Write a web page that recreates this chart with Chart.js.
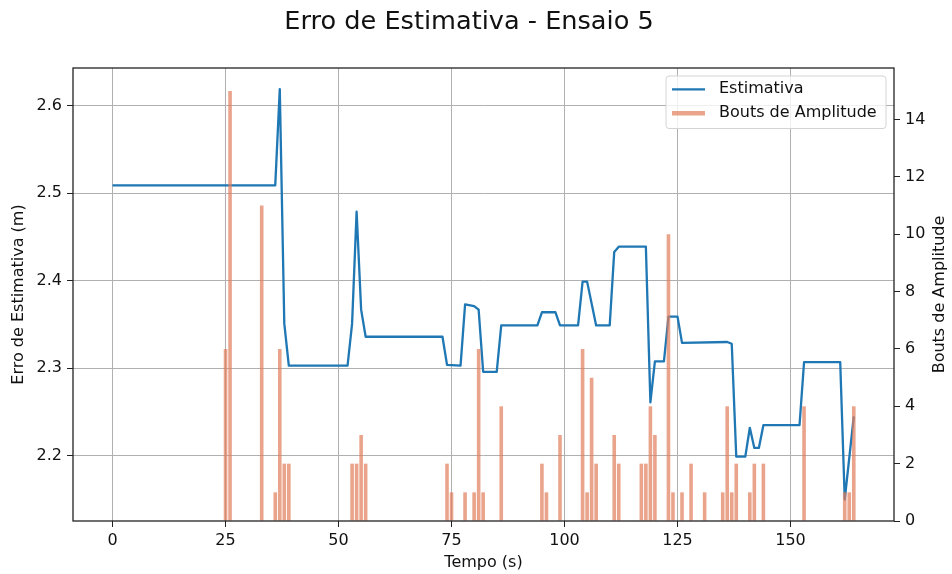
<!DOCTYPE html>
<html>
<head>
<meta charset="utf-8">
<script src="https://cdn.jsdelivr.net/npm/chart.js@4.4.1/dist/chart.umd.min.js"></script>
<style>
  html, body { margin: 0; padding: 0; background: #ffffff; }
  #wrap { width: 952px; height: 574px; }
</style>
</head>
<body>
<div id="wrap"><canvas id="c" width="952" height="574"></canvas></div>
<script>
// Estimation error over time (vertices of the line)
const estTimes = [0, 36, 37, 38, 39, 52, 53, 54, 55, 56, 73, 74, 77, 78, 80, 81, 82, 85, 86, 94,
  95, 98, 99, 103, 104, 105, 107, 110, 111, 112, 118, 119, 120, 122, 123, 125, 126, 136, 137, 138,
  140, 141, 142, 143, 144, 152, 153, 161, 162, 164];
const estimativa = [2.509, 2.509, 2.619, 2.351, 2.303, 2.303, 2.351, 2.479, 2.367, 2.336, 2.336, 2.304, 2.303, 2.373, 2.371, 2.367, 2.296, 2.296, 2.349, 2.349,
  2.364, 2.364, 2.349, 2.349, 2.399, 2.399, 2.349, 2.349, 2.433, 2.439, 2.439, 2.261, 2.308, 2.308, 2.359, 2.359, 2.329, 2.330, 2.328, 2.199,
  2.199, 2.232, 2.209, 2.209, 2.235, 2.235, 2.307, 2.307, 2.150, 2.245];

// Amplitude bouts per second
const boutTimes = [25, 26, 33, 36, 37, 38, 39, 53, 54, 55, 56, 74, 75, 78, 80, 81, 82, 86, 95, 96,
  99, 104, 105, 106, 107, 111, 112, 117, 118, 119, 120, 123, 124, 126, 128, 131, 135, 136, 137, 138,
  141, 142, 144, 153, 162, 163, 164];
const bouts = [6, 15, 11, 1, 6, 2, 2, 2, 2, 3, 2, 2, 1, 1, 1, 6, 1, 4, 2, 1,
  3, 6, 1, 5, 2, 3, 2, 2, 2, 4, 3, 10, 1, 1, 2, 1, 1, 4, 1, 2,
  1, 2, 2, 4, 1, 1, 4];

// Axis ticks
const xTicks = [0, 25, 50, 75, 100, 125, 150];
const leftTicks = [2.2, 2.3, 2.4, 2.5, 2.6];
const rightTicks = [0, 2, 4, 6, 8, 10, 12, 14];

// Texts
const chartTitle = 'Erro de Estimativa - Ensaio 5';
const xLabel = 'Tempo (s)';
const yLeftLabel = 'Erro de Estimativa (m)';
const yRightLabel = 'Bouts de Amplitude';

const FONT = 'DejaVu Sans';
const TEXT = '#111111';
const LINE_COLOR = '#1f77b4';
const BAR_COLOR = 'rgba(225,126,91,0.7)';
const GRID = '#b0b0b0';

const estPoints = estTimes.map((t, i) => ({ x: t, y: estimativa[i] }));
const boutPoints = boutTimes.map((t, i) => ({ x: t, y: bouts[i] }));

const decorations = {
  id: 'decorations',
  beforeDraw(chart) {
    const ctx = chart.ctx;
    ctx.save();
    ctx.fillStyle = '#ffffff';
    ctx.fillRect(0, 0, chart.width, chart.height);
    ctx.restore();
  },
  afterDatasetsDraw(chart) {
    const { ctx, chartArea: a } = chart;
    ctx.save();
    ctx.strokeStyle = '#222222';
    ctx.lineWidth = 1.3;
    ctx.strokeRect(a.left, a.top, a.right - a.left, a.bottom - a.top);
    ctx.restore();
  },
  afterDraw(chart) {
    const { ctx, chartArea: a } = chart;
    ctx.save();
    // figure title
    ctx.fillStyle = TEXT;
    ctx.font = '25.6px "' + FONT + '"';
    ctx.textAlign = 'center';
    ctx.textBaseline = 'alphabetic';
    ctx.fillText(chartTitle, 469, 28.5);

    // right axis title, reading bottom to top
    ctx.font = '16px "' + FONT + '"';
    ctx.translate(940, (a.top + a.bottom) / 2);
    ctx.rotate(-Math.PI / 2);
    ctx.textBaseline = 'middle';
    ctx.fillText(yRightLabel, 0, 0);
    ctx.setTransform(1, 0, 0, 1, 0, 0);

    // legend
    const bx = 666, by = 76, bw = 220, bh = 52.5, r = 3;
    ctx.beginPath();
    ctx.moveTo(bx + r, by);
    ctx.arcTo(bx + bw, by, bx + bw, by + bh, r);
    ctx.arcTo(bx + bw, by + bh, bx, by + bh, r);
    ctx.arcTo(bx, by + bh, bx, by, r);
    ctx.arcTo(bx, by, bx + bw, by, r);
    ctx.closePath();
    ctx.fillStyle = 'rgba(255,255,255,0.8)';
    ctx.fill();
    ctx.strokeStyle = '#d4d4d4';
    ctx.lineWidth = 1;
    ctx.stroke();

    const ds = chart.data.datasets;
    const rows = [89.3, 113.3];
    ds.forEach((d, i) => {
      const y = rows[i];
      ctx.beginPath();
      ctx.moveTo(672, y);
      ctx.lineTo(705, y);
      ctx.strokeStyle = d.type === 'line' ? d.borderColor : d.backgroundColor;
      ctx.lineWidth = d.type === 'line' ? 2.3 : 4.5;
      ctx.lineCap = 'butt';
      ctx.stroke();
      ctx.fillStyle = TEXT;
      ctx.font = '16px "' + FONT + '"';
      ctx.textAlign = 'left';
      ctx.textBaseline = 'middle';
      ctx.fillText(d.label, 719, y);
    });
    ctx.restore();
  }
};

new Chart(document.getElementById('c'), {
  type: 'bar',
  data: {
    datasets: [
      {
        type: 'line',
        label: 'Estimativa',
        data: estPoints,
        yAxisID: 'y',
        borderColor: LINE_COLOR,
        borderWidth: 2.3,
        pointRadius: 0,
        tension: 0,
        borderJoinStyle: 'round',
        fill: false,
        order: 2
      },
      {
        type: 'bar',
        label: 'Bouts de Amplitude',
        data: boutPoints,
        yAxisID: 'y1',
        backgroundColor: BAR_COLOR,
        borderWidth: 0,
        barPercentage: 0.8,
        categoryPercentage: 1.0,
        order: 1
      }
    ]
  },
  options: {
    responsive: false,
    animation: false,
    devicePixelRatio: 1,
    layout: { padding: { top: 68, left: 0, right: 0, bottom: 0 } },
    plugins: {
      legend: { display: false },
      title: { display: false },
      tooltip: { enabled: false }
    },
    scales: {
      x: {
        type: 'linear',
        position: 'bottom',
        min: -8.75,
        max: 172.9,
        offset: false,
        afterBuildTicks: s => { s.ticks = xTicks.map(v => ({ value: v })); },
        afterFit: s => { s.height = 53; },
        grid: { color: GRID, lineWidth: 1, tickColor: '#222222', tickLength: 6, offset: false },
        border: { display: false },
        ticks: {
          font: { family: FONT, size: 16 }, color: TEXT, padding: 4,
          maxRotation: 0, autoSkip: false, callback: v => String(v)
        },
        title: {
          display: true, text: xLabel, color: TEXT,
          font: { family: FONT, size: 16 }, padding: { top: 0, bottom: 1.4 }
        }
      },
      y: {
        type: 'linear',
        position: 'left',
        min: 2.1255,
        max: 2.6431,
        afterBuildTicks: s => { s.ticks = leftTicks.map(v => ({ value: v })); },
        afterFit: s => { s.width = 73; },
        grid: { color: GRID, lineWidth: 1, tickColor: '#222222', tickLength: 6 },
        border: { display: false },
        ticks: {
          font: { family: FONT, size: 16 }, color: TEXT, padding: 5,
          autoSkip: false, callback: v => v.toFixed(1)
        },
        title: {
          display: true, text: yLeftLabel, color: TEXT,
          font: { family: FONT, size: 16 }, padding: { top: 9.4, bottom: 0 }
        }
      },
      y1: {
        type: 'linear',
        position: 'right',
        min: 0,
        max: 15.8,
        afterBuildTicks: s => { s.ticks = rightTicks.map(v => ({ value: v })); },
        afterFit: s => { s.width = 58; },
        grid: { drawOnChartArea: false, tickColor: '#222222', tickLength: 6 },
        border: { display: false },
        ticks: {
          font: { family: FONT, size: 16 }, color: TEXT, padding: 5,
          autoSkip: false, callback: v => String(v)
        }
      }
    }
  },
  plugins: [decorations]
});
</script>
</body>
</html>
